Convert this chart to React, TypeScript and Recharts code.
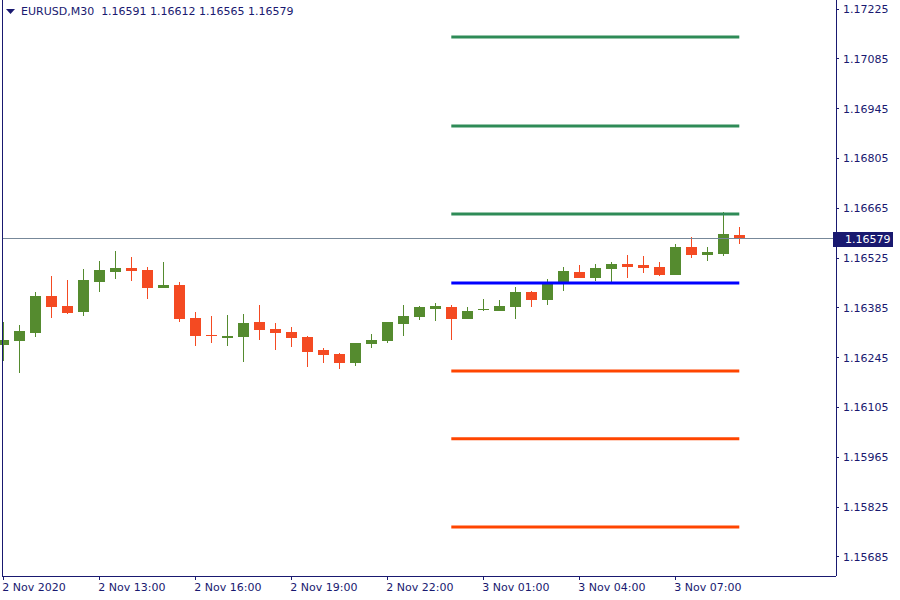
import React from "react";
import { ComposedChart, Bar, XAxis, YAxis, ReferenceLine } from "recharts";

// EURUSD M30 candles, 2 Nov 10:00 .. 3 Nov 09:00
const times = [
  "2 Nov 10:00", "2 Nov 10:30", "2 Nov 11:00", "2 Nov 11:30", "2 Nov 12:00", "2 Nov 12:30",
  "2 Nov 13:00", "2 Nov 13:30", "2 Nov 14:00", "2 Nov 14:30", "2 Nov 15:00", "2 Nov 15:30",
  "2 Nov 16:00", "2 Nov 16:30", "2 Nov 17:00", "2 Nov 17:30", "2 Nov 18:00", "2 Nov 18:30",
  "2 Nov 19:00", "2 Nov 19:30", "2 Nov 20:00", "2 Nov 20:30", "2 Nov 21:00", "2 Nov 21:30",
  "2 Nov 22:00", "2 Nov 22:30", "2 Nov 23:00", "2 Nov 23:30", "3 Nov 00:00", "3 Nov 00:30",
  "3 Nov 01:00", "3 Nov 01:30", "3 Nov 02:00", "3 Nov 02:30", "3 Nov 03:00", "3 Nov 03:30",
  "3 Nov 04:00", "3 Nov 04:30", "3 Nov 05:00", "3 Nov 05:30", "3 Nov 06:00", "3 Nov 06:30",
  "3 Nov 07:00", "3 Nov 07:30", "3 Nov 08:00", "3 Nov 08:30", "3 Nov 09:00",
];

const opens = [
  1.16282, 1.16293, 1.16315, 1.16418, 1.1639, 1.16374, 1.16459, 1.16487, 1.16497, 1.16492,
  1.16442, 1.16449, 1.16357, 1.16309, 1.16301, 1.16304, 1.16345, 1.16326, 1.16317, 1.16303,
  1.16267, 1.16255, 1.16231, 1.16284, 1.16293, 1.16341, 1.1636, 1.16383, 1.16388, 1.16355,
  1.16379, 1.16377, 1.16388, 1.1643, 1.16408, 1.16456, 1.16486, 1.1647, 1.16495, 1.16508,
  1.16506, 1.165, 1.16478, 1.16556, 1.16535, 1.16537, 1.16591,
];
const highs = [
  1.16346, 1.16337, 1.16431, 1.16476, 1.16463, 1.16494, 1.16517, 1.16545, 1.16528, 1.165,
  1.16514, 1.16458, 1.16373, 1.16362, 1.16365, 1.16368, 1.16393, 1.16343, 1.16331, 1.16306,
  1.16272, 1.16258, 1.16286, 1.16312, 1.16345, 1.16393, 1.1639, 1.16399, 1.16394, 1.16387,
  1.1641, 1.16407, 1.16444, 1.16433, 1.16466, 1.165, 1.16506, 1.16508, 1.16514, 1.16534,
  1.16531, 1.16514, 1.16565, 1.16584, 1.16556, 1.16655, 1.16612,
];
const lows = [
  1.16237, 1.16203, 1.16304, 1.16358, 1.16369, 1.16363, 1.16431, 1.16467, 1.16461, 1.16411,
  1.16442, 1.16346, 1.16279, 1.16287, 1.16279, 1.16234, 1.16296, 1.16268, 1.16276, 1.1622,
  1.16231, 1.16214, 1.16223, 1.16273, 1.16287, 1.16307, 1.16352, 1.16349, 1.16295, 1.16355,
  1.16377, 1.16377, 1.16355, 1.16388, 1.16394, 1.16433, 1.1647, 1.16461, 1.16456, 1.1647,
  1.16484, 1.16476, 1.16478, 1.16526, 1.16518, 1.16532, 1.16565,
];
const closes = [
  1.16295, 1.16321, 1.16419, 1.16388, 1.16372, 1.16463, 1.16492, 1.16497, 1.1649, 1.16442,
  1.16449, 1.16355, 1.16307, 1.16306, 1.16305, 1.16343, 1.16324, 1.16315, 1.16301, 1.16262,
  1.16253, 1.16231, 1.16286, 1.16295, 1.16345, 1.16362, 1.16388, 1.1639, 1.16355, 1.16376,
  1.16382, 1.1639, 1.1643, 1.16408, 1.16458, 1.16489, 1.1647, 1.16497, 1.16508, 1.16501,
  1.16498, 1.16478, 1.16556, 1.16535, 1.16542, 1.16593, 1.16579,
];

const priceTicks = [
  1.15685, 1.15825, 1.15965, 1.16105, 1.16245, 1.16385, 1.16525, 1.16665, 1.16805, 1.16945,
  1.17085, 1.17225,
];
const priceDomain = [1.156316, 1.172503];

const timeTicks = [
  "2 Nov 10:00", "2 Nov 13:00", "2 Nov 16:00", "2 Nov 19:00",
  "2 Nov 22:00", "3 Nov 01:00", "3 Nov 04:00", "3 Nov 07:00",
];
const timeTickLabels = [
  "2 Nov 2020", "2 Nov 13:00", "2 Nov 16:00", "2 Nov 19:00",
  "2 Nov 22:00", "3 Nov 01:00", "3 Nov 04:00", "3 Nov 07:00",
];

// daily pivot levels for 3 Nov
const pivotNames = ["R3", "R2", "R1", "PP", "S1", "S2", "S3"];
const pivotValues = [1.17146, 1.16896, 1.16649, 1.16455, 1.16208, 1.16017, 1.15769];
const pivotFrom = "3 Nov 00:00";
const pivotTo = "3 Nov 09:00";

const symbol = "EURUSD,M30";
const lastBar = [1.16591, 1.16612, 1.16565, 1.16579];
const lastPrice = 1.16579;

const NAVY = "#191970";
const BULL = "#558B2F";
const BEAR = "#F44A22";
const FONT = "DejaVu Sans, Verdana, sans-serif";

const pivotColor = (name: string) =>
  name.startsWith("R") ? "#2E8B57" : name.startsWith("S") ? "#FF4500" : "#0000FF";

const data = times.map((time, i) => ({
  time,
  open: opens[i],
  high: highs[i],
  low: lows[i],
  close: closes[i],
}));

function Candle(props: any) {
  const { x, y, width, height, payload } = props;
  const top = Math.min(y, y + height);
  const h = Math.abs(height);
  const range = payload.high - payload.low;
  const k = range > 0 ? h / range : 0;
  const py = (v: number) => top + (payload.high - v) * k;
  const color = payload.close >= payload.open ? BULL : BEAR;
  const cx = x + width / 2;
  const bodyTop = py(Math.max(payload.open, payload.close));
  const bodyBottom = py(Math.min(payload.open, payload.close));
  return (
    <g shapeRendering="crispEdges">
      <rect x={cx - 0.5} y={top} width={1} height={h} fill={color} />
      <rect
        x={cx - 5.5}
        y={bodyTop}
        width={11}
        height={Math.max(bodyBottom - bodyTop, 1)}
        fill={color}
      />
    </g>
  );
}

function TimeTick(props: any) {
  const { x, y, payload } = props;
  const i = timeTicks.indexOf(payload.value);
  return (
    <text x={x - 1} y={y + 9} textAnchor="start" fill={NAVY} fontSize={11} fontFamily={FONT}>
      {timeTickLabels[i]}
    </text>
  );
}

function PriceTag(props: any) {
  const vb = props.viewBox || {};
  const right = vb.x + vb.width;
  return (
    <g>
      <rect x={right - 3} y={vb.y - 7} width={60} height={15} fill={NAVY} shapeRendering="crispEdges" />
      <text x={right + 9} y={vb.y + 4} fill="#fff" fontSize={11} fontFamily={FONT}>
        {lastPrice.toFixed(5)}
      </text>
    </g>
  );
}

const crispLine = { stroke: NAVY, shapeRendering: "crispEdges" };

export default function App() {
  return (
    <div style={{ position: "fixed", left: 0, top: 0, width: 900, height: 600, background: "#fff" }}>
      <ComposedChart
        width={900}
        height={600}
        data={data}
        margin={{ top: 0, right: 0, bottom: 0, left: 0 }}
        barCategoryGap={0}
      >
        <XAxis
          dataKey="time"
          ticks={timeTicks}
          interval={0}
          padding={{ left: -6.7, right: 88.7 }}
          height={24}
          tickSize={4}
          axisLine={crispLine}
          tickLine={crispLine}
          tick={<TimeTick />}
        />
        <YAxis
          yAxisId="frame"
          orientation="left"
          width={2}
          type="number"
          domain={priceDomain}
          allowDataOverflow
          tick={false}
          tickLine={false}
          axisLine={crispLine}
        />
        <YAxis
          yAxisId="price"
          orientation="right"
          width={64}
          type="number"
          domain={priceDomain}
          allowDataOverflow
          ticks={priceTicks}
          interval={0}
          tickSize={3}
          tickMargin={4}
          tickFormatter={(v: number) => v.toFixed(5)}
          axisLine={crispLine}
          tickLine={crispLine}
          tick={{ fill: NAVY, fontSize: 11, fontFamily: FONT }}
        />
        <ReferenceLine
          yAxisId="price"
          y={lastPrice}
          stroke="#778899"
          strokeWidth={1}
          shapeRendering="crispEdges"
          label={<PriceTag />}
        />
        <Bar
          yAxisId="price"
          dataKey={(d: any) => [d.low, d.high]}
          shape={<Candle />}
          isAnimationActive={false}
        />
        {pivotNames.map((name, i) => (
          <ReferenceLine
            key={name}
            yAxisId="price"
            segment={[
              { x: pivotFrom, y: pivotValues[i] },
              { x: pivotTo, y: pivotValues[i] },
            ]}
            stroke={pivotColor(name)}
            strokeWidth={3}
          />
        ))}
      </ComposedChart>
      <div
        style={{
          position: "absolute",
          left: 6,
          top: 5,
          fontFamily: FONT,
          fontSize: 11,
          color: NAVY,
          whiteSpace: "pre",
          lineHeight: "13px",
          display: "flex",
          alignItems: "center",
        }}
      >
        <svg width={15} height={13}>
          <polygon points="0,4 9,4 4.5,9" fill={NAVY} />
        </svg>
        <span>{symbol + "  " + lastBar.map((v) => v.toFixed(5)).join(" ")}</span>
      </div>
    </div>
  );
}
